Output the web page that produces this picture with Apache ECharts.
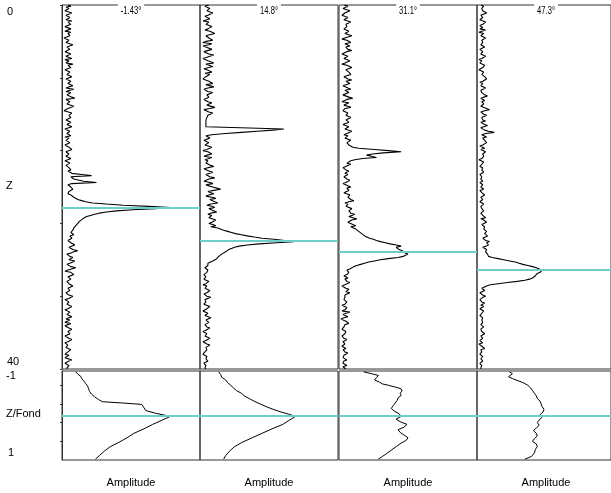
<!DOCTYPE html>
<html><head><meta charset="utf-8">
<script src="https://cdn.jsdelivr.net/npm/echarts@6/dist/echarts.min.js"></script>
<style>html,body{margin:0;padding:0;background:#fff}#c{width:611px;height:493px}</style>
</head><body><div id="c"></div>
<script>
// ---- data ----
const angles = ['-1.43°', '14.8°', '31.1°', '47.3°'];
const depthLabels = ['0', 'Z', '40'];
const fondLabels = ['-1', 'Z/Fond', '1'];
const ampLabel = 'Amplitude';
const depthStep = 0.125; // sampling step of the profiles along Z (0..40)

const amp1 = [
  6,9,4,7,8,3,5,10,9,4, 3,8,7,4,10,6,5,9,8,3,
  4,9,7,3,9,6,5,8,6,2, 3,7,8,4,6,11,10,5,4,8,
  7,3,5,9,9,4,6,10,3,7, 8,4,11,6,5,9,7,3,4,8,
  9,5,6,10,8,4,3,9,10,6, 5,11,7,4,12,8,4,9,8,5,
  6,10,13,4,2,8,9,5,5,12, 14,6,7,2,3,10,11,7,6,9,
  8,4,3,9,7,5,5,10,9,3, 4,8,8,5,6,9,3,7,7,4,
  5,8,9,3,4,7,6,10,8,4, 3,7,7,4,5,9,6,3,4,8,
  8,4,3,7,5,9,6,8,10,20, 30,9,8,12,12,22,35,10,6,8,
  9,7,11,9,7,5,6,9,11,12, 13,16,20,24,31,45,62,88,110,95,
  72,55,45,38,33,29,25,23,21,19, 18,17,16,15,14,13,12,12,11,10,
  9,11,12,8,7,10,10,6,5,9, 8,13,13,7,6,11,16,12,9,5,
  4,8,11,9,7,13,15,8,5,7, 9,14,12,6,3,9,8,12,14,6,
  6,9,10,5,4,7,8,11,12,6, 5,8,9,4,3,7,11,9,7,3,
  4,7,9,5,6,10,12,6,3,5, 8,10,5,3,10,7,4,8,7,3,
  9,6,3,5,7,10,11,6,5,8, 8,3,4,7,10,8,6,3,3,6,
  8,4,5,9,9,6,4,3,7,9, 3,5,10,7,6,3,4,7,8,5,
  5];
const amp2 = [
  9,5,4,10,12,7,6,13,14,8, 5,3,10,12,3,9,11,6,7,12,
  13,8,5,10,9,15,15,6,4,9, 10,13,6,3,12,9,3,6,8,12,
  11,4,5,9,14,10,7,3,3,8, 10,14,6,5,13,9,4,7,9,12,
  5,10,12,6,7,3,3,9,11,13, 6,4,14,8,4,6,8,13,13,7,
  5,9,10,4,3,8,12,14,7,5, 15,10,4,6,9,13,13,8,6,7,
  7,6,6,6,6,6,6,6,6,85, 74,58,42,26,12,6,5,10,9,4,
  4,9,11,5,6,12,13,7,3,8, 9,12,7,4,12,9,5,8,10,6,
  6,11,14,8,4,6,9,13,12,6, 5,10,15,9,7,4,10,13,6,9,
  13,17,21,14,8,11,14,9,6,12, 16,10,9,15,18,11,7,12,15,9,
  10,14,17,11,8,12,14,9,11,16, 18,12,9,13,16,11,18,20,24,28,
  32,36,42,48,55,63,75,86,95,78, 60,48,40,35,32,29,27,26,24,22,
  21,19,18,17,15,13,11,8,6,8, 9,5,4,8,10,7,7,4,3,6,
  8,4,5,9,11,6,3,7,9,5, 6,10,12,7,4,6,7,11,10,5,
  3,6,8,4,5,10,11,7,6,3, 4,8,9,5,7,11,12,6,5,9,
  8,5,3,7,10,8,6,3,4,7, 9,5,5,10,11,6,3,5,7,10,
  10,6,4,7,8,5,6,3,3,7, 9,6,5,8,7,4,4,6,8,5,
  6];
const amp3 = [
  5,9,10,4,4,11,12,6,7,3, 3,9,11,5,6,12,13,7,5,8,
  9,5,4,10,12,6,7,13,14,6, 3,8,10,12,6,4,11,7,5,9,
  13,8,7,3,4,9,10,5,6,11, 12,6,3,8,9,13,14,7,5,10,
  8,12,11,5,4,9,13,7,6,11, 10,4,3,9,12,6,7,10,9,4,
  4,10,14,8,6,3,10,12,5,9, 12,6,8,4,3,9,11,7,6,12,
  13,7,5,10,9,4,4,10,12,6, 7,13,15,8,5,9,10,6,8,12,
  14,8,6,10,12,14,20,36,50,63, 45,34,28,33,38,24,16,12,10,8,
  12,9,8,4,4,7,10,8,6,9, 9,5,3,8,11,9,7,4,5,9,
  12,8,6,10,9,5,4,11,13,9, 8,12,15,10,6,9,11,7,9,13,
  14,10,8,12,16,13,10,14,18,13, 12,9,9,14,17,12,13,17,19,20,
  21,23,24,26,28,31,35,38,42,47, 52,58,63,58,57,61,64,62,67,70,
  71,65,60,50,42,36,30,26,22,18, 15,13,11,8,7,10,12,8,5,7,
  9,6,4,8,11,9,6,3,3,7, 10,8,7,11,12,6,4,6,8,5,
  5,8,10,6,3,5,8,10,6,3, 11,7,4,6,9,5,2,4,7,9,
  10,6,4,5,6,3,3,7,9,6, 5,3,2,5,8,6,4,3,6,8,
  3,5,7,4,2,6,9,7,5,3, 4,6,8,5,3,4,6,8,4,3,
  7];
const amp4 = [
  4,7,9,5,3,6,7,10,10,4, 2,6,8,3,5,9,11,6,3,5,
  6,3,9,5,2,7,8,4,4,9, 10,5,3,6,7,4,5,8,9,3,
  3,6,8,4,6,9,11,5,2,5, 7,3,4,8,10,6,5,2,3,7,
  9,5,4,8,7,10,12,6,3,6, 8,4,5,9,10,4,2,5,6,8,
  11,7,4,3,8,5,3,7,9,4, 6,10,13,8,4,6,7,10,10,5,
  3,6,9,4,5,8,11,7,4,6, 8,12,18,9,5,7,10,6,4,8,
  7,10,12,6,3,5,8,4,5,9, 10,6,4,7,9,5,2,4,7,9,
  5,3,3,6,8,5,4,7,6,3, 2,5,7,4,5,6,3,5,6,4,
  4,6,7,3,2,5,5,8,8,4, 3,6,6,3,4,7,7,4,2,5,
  5,7,8,4,3,6,6,9,4,7, 7,10,9,5,4,8,10,7,6,10,
  12,8,7,11,11,6,5,9,13,10, 8,12,9,6,6,10,12,9,8,11,
  10,12,16,22,28,34,40,44,48,53, 58,62,65,68,70,66,63,65,61,62,
  58,55,50,42,32,22,14,10,8,5, 4,8,7,3,3,6,9,6,5,3,
  2,5,8,6,4,7,6,3,3,7, 9,5,5,3,2,6,7,5,4,6,
  6,4,3,7,8,4,2,5,5,8, 7,4,3,6,6,3,4,6,2,4,
  5,7,8,4,3,5,6,3,2,6, 7,4,4,6,5,3,3,5,6,4,
  4];
const peakDepth = [22.3, 25.95, 27.14, 29.12];

const fondZ1 = [-0.98,-0.93,-0.88,-0.83,-0.78,-0.72,-0.66,-0.60,-0.54,-0.48,-0.42,-0.36,-0.31,-0.28,-0.25,-0.18,-0.11,-0.05,0.02,0.10,0.20,0.30,0.40,0.50,0.60,0.70,0.80,0.90,0.98];
const fondA1 = [14,16,19,20,22,24,26,27,28,30,33,37,41,62,81,83,85,95,110,102,92,83,73,66,58,49,43,38,34];
const fondZ2 = [-0.98,-0.92,-0.86,-0.80,-0.74,-0.68,-0.62,-0.56,-0.50,-0.44,-0.38,-0.32,-0.26,-0.20,-0.14,-0.08,-0.03,0.02,0.10,0.20,0.30,0.40,0.50,0.60,0.70,0.80,0.90,0.98];
const fondA2 = [19,21,22,26,28,31,34,37,42,45,50,55,61,67,74,82,90,97,91,84,73,63,53,43,35,30,26,24];
const fondZ3 = [-0.98,-0.94,-0.90,-0.85,-0.80,-0.75,-0.71,-0.68,-0.64,-0.60,-0.55,-0.50,-0.45,-0.40,-0.34,-0.28,-0.22,-0.16,-0.10,-0.04,0.02,0.08,0.14,0.20,0.26,0.32,0.38,0.44,0.50,0.56,0.62,0.70,0.78,0.86,0.92,0.98];
const fondA3 = [25,33,40,38,36,41,44,50,57,63,64,62,63,60,59,57,55,53,56,61,63,58,62,69,66,60,62,66,70,68,63,58,53,48,44,40];
const fondZ4 = [-0.98,-0.94,-0.90,-0.87,-0.83,-0.78,-0.73,-0.68,-0.62,-0.56,-0.50,-0.44,-0.38,-0.32,-0.26,-0.20,-0.14,-0.08,-0.02,0.04,0.10,0.16,0.22,0.28,0.34,0.40,0.46,0.52,0.58,0.64,0.70,0.76,0.84,0.92,0.98];
const fondA4 = [34,37,38,33,37,43,49,53,56,58,60,62,63,66,67,68,70,69,66,68,65,63,65,62,59,62,63,60,58,62,63,61,60,57,50];
const fondLevel = 0.01;
const fondTicks = [-0.68, -0.26, 0.16, 0.58];

// ---- layout / style ----
const panelLeft = [62, 200, 339, 477];
const panelW = 138;
const topY = 5, topH = 364, botY = 371, botH = 89;
const FONT = '"Liberation Sans", Arial, Helvetica, sans-serif';
const borderCol = '#333';
const traceCol = '#000';
const cyan = '#6fcfc6';

const amps = [amp1, amp2, amp3, amp4];
const fondZ = [fondZ1, fondZ2, fondZ3, fondZ4];
const fondA = [fondA1, fondA2, fondA3, fondA4];

const grid = [], xAxis = [], yAxis = [], series = [];
for (let k = 0; k < 4; k++) {
  grid.push({left: panelLeft[k], top: topY, width: panelW, height: topH, show: true,
    borderColor: borderCol, borderWidth: 1, backgroundColor: 'transparent'});
}
for (let k = 0; k < 4; k++) {
  grid.push({left: panelLeft[k], top: botY, width: panelW, height: botH, show: true,
    borderColor: borderCol, borderWidth: 1, backgroundColor: 'transparent'});
}
for (let i = 0; i < 8; i++) {
  xAxis.push({gridIndex: i, type: 'value', min: 0, max: 140, show: false});
}
for (let k = 0; k < 4; k++) {
  yAxis.push({gridIndex: k, type: 'value', min: 0, max: 40, interval: 8, inverse: true,
    show: k === 0,
    axisLine: {show: true, lineStyle: {color: borderCol, width: 1}},
    axisTick: {show: true, length: 2, inside: false, lineStyle: {color: borderCol}},
    axisLabel: {show: false}, splitLine: {show: false}});
}
for (let k = 0; k < 4; k++) {
  yAxis.push({gridIndex: 4 + k, type: 'value', min: -1, max: 1, inverse: true,
    show: k === 0,
    axisLine: {show: true, lineStyle: {color: borderCol, width: 1}},
    axisTick: {show: true, length: 2, inside: false, customValues: fondTicks, lineStyle: {color: borderCol}},
    axisLabel: {show: false}, splitLine: {show: false}});
}
function cyanLine(v) {
  return {silent: true, symbol: 'none', animation: false, label: {show: false},
    lineStyle: {color: cyan, width: 2, type: 'solid'}, emphasis: {disabled: true},
    data: [{yAxis: v}]};
}
for (let k = 0; k < 4; k++) {
  series.push({type: 'line', xAxisIndex: k, yAxisIndex: k,
    data: amps[k].map((a, i) => [a, i * depthStep]),
    showSymbol: false, symbol: 'none', silent: true,
    lineStyle: {color: traceCol, width: 1.1}, markLine: cyanLine(peakDepth[k])});
}
for (let k = 0; k < 4; k++) {
  series.push({type: 'line', xAxisIndex: 4 + k, yAxisIndex: 4 + k,
    data: fondA[k].map((a, i) => [a, fondZ[k][i]]),
    showSymbol: false, symbol: 'none', silent: true,
    lineStyle: {color: traceCol, width: 1}, markLine: cyanLine(fondLevel)});
}

const measureCtx = document.createElement('canvas').getContext('2d');
function textWidth(t, font) { measureCtx.font = font; return measureCtx.measureText(t).width; }
function txt(t, x, y, align, font) {
  return {type: 'text', z: 100, silent: true, style: {text: t, x: x, y: y, fill: '#000', font: font,
    textAlign: align, textVerticalAlign: 'middle', align: align, verticalAlign: 'middle'}};
}
const graphic = [];
const titleScale = 0.76;
angles.forEach((a, k) => {
  const cx = panelLeft[k] + panelW / 2;
  const f = '10px ' + FONT;
  const w = textWidth(a, f) * titleScale;
  graphic.push({type: 'rect', z: 99, silent: true,
    shape: {x: cx - w / 2 - 3, y: 1, width: w + 6, height: 8}, style: {fill: '#fff'}});
  graphic.push({type: 'text', z: 100, silent: true, x: cx, y: 11, scaleX: titleScale, scaleY: 1,
    style: {text: a, x: 0, y: 0, fill: '#000', font: f,
      textAlign: 'center', textVerticalAlign: 'middle', align: 'center', verticalAlign: 'middle'}});
});
angles.forEach((a, k) => graphic.push(txt(ampLabel, panelLeft[k] + panelW / 2, 482.5, 'center', '11px ' + FONT)));
graphic.push(txt(depthLabels[0], 7, 12, 'left', '11px ' + FONT));
graphic.push(txt(depthLabels[1], 6, 186, 'left', '11px ' + FONT));
graphic.push(txt(depthLabels[2], 7, 362, 'left', '11px ' + FONT));
graphic.push(txt(fondLabels[0], 6, 375.5, 'left', '11px ' + FONT));
graphic.push(txt(fondLabels[1], 6, 413.5, 'left', '11px ' + FONT));
graphic.push(txt(fondLabels[2], 8, 453, 'left', '11px ' + FONT));

const chart = echarts.init(document.getElementById('c'), null, {renderer: 'canvas'});
chart.setOption({animation: false, backgroundColor: '#fff', grid, xAxis, yAxis, series, graphic});
</script></body></html>
